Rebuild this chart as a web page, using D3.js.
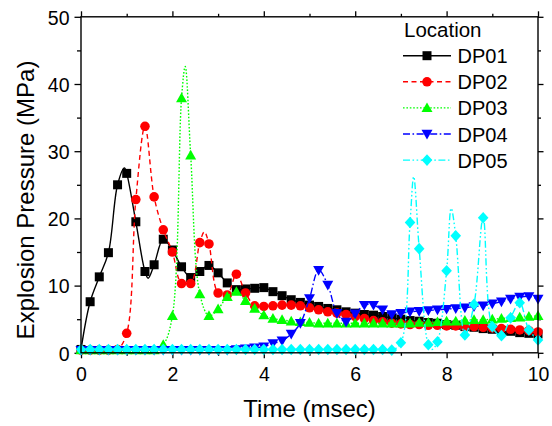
<!DOCTYPE html>
<html><head><meta charset="utf-8">
<script src="https://cdn.jsdelivr.net/npm/d3@7"></script>
<style>
body{margin:0;background:#fff;}
svg{display:block;font-family:"Liberation Sans",Arial,sans-serif;}
</style></head>
<body><svg id="c" width="552" height="426"></svg>
<script>
const time = d3.range(51).map(i => +(i*0.2).toFixed(1));
const seriesNames = ["DP01","DP02","DP03","DP04","DP05"];
const dp01 = [0.5,7.6,11.3,14.9,25.0,26.7,19.5,12.1,13.1,16.9,15.3,12.8,11.2,12.1,13.0,11.9,10.4,9.4,9.5,9.6,9.7,9.1,8.5,7.9,7.5,7.1,6.9,6.6,6.4,6.1,5.9,5.7,5.6,5.4,5.2,5.0,4.8,4.7,4.5,4.4,4.2,4.1,3.9,3.8,3.6,3.5,3.3,3.2,3.0,2.9,2.8];
const dp02 = [0.4,0.4,0.4,0.4,0.5,2.9,22.8,33.7,23.2,18.3,15.0,10.3,10.3,16.4,16.2,8.9,8.6,11.7,8.9,7.0,6.9,7.0,7.1,7.1,7.0,6.7,6.4,6.1,5.9,5.7,5.4,5.1,4.8,4.6,4.4,4.3,4.2,4.2,4.1,4.1,4.0,4.0,3.9,3.9,3.8,3.7,3.6,3.5,3.4,3.3,3.1];
const dp03 = [0.4,0.4,0.4,0.4,0.4,0.4,0.4,0.4,0.4,1.2,5.5,37.9,29.4,8.75,5.5,6.5,8.35,9.1,7.75,6.6,5.6,5.1,4.9,4.7,4.6,4.5,4.4,4.4,4.4,4.4,4.4,4.4,4.4,4.4,4.4,4.4,4.4,4.5,4.5,4.6,4.7,4.7,4.8,4.9,4.9,5.0,5.1,5.2,5.3,5.4,5.5];
const dp04 = [0.4,0.4,0.4,0.4,0.4,0.4,0.4,0.4,0.4,0.4,0.4,0.4,0.4,0.4,0.4,0.4,0.4,0.5,0.6,0.75,0.9,1.4,1.8,2.8,4.4,8.1,12.3,10.1,5.9,4.6,5.8,7.1,7.1,6.4,5.7,5.9,6.1,6.2,6.3,6.4,6.5,6.6,6.7,6.9,7.0,7.3,7.6,8.0,8.3,8.4,8.0];
const dp05 = [0.5,0.5,0.5,0.5,0.5,0.5,0.5,0.5,0.5,0.5,0.5,0.5,0.5,0.5,0.5,0.5,0.5,0.5,0.5,0.5,0.5,0.5,0.5,0.5,0.5,0.5,0.5,0.5,0.5,0.5,0.5,0.5,0.5,0.5,0.4,1.5,19.4,15.5,1.2,1.65,12.2,17.4,2.65,7.2,20.1,3.9,2.55,5.2,7.45,3.4,1.9];
// extra line-only samples between markers (peaks/dips of the recorded trace): [time, value]
const dp01Line = [[0.95,27.5],[1.47,11.1]];
const dp02Line = [[2.7,18.0]];
const dp03Line = [[2.28,42.6]];
const dp04Line = [];
const dp05Line = [[7.28,26.2],[7.68,0.5],[8.1,21.5]];
const xTicks = [0,2,4,6,8,10];
const xMinor = [1,3,5,7,9];
const yTicks = [0,10,20,30,40,50];
const yMinor = [5,15,25,35,45];
const legendTitle = "Location";
const xTitle = "Time (msec)";
const yTitle = "Explosion Pressure (MPa)";

const values = [dp01,dp02,dp03,dp04,dp05];
const extras = [dp01Line,dp02Line,dp03Line,dp04Line,dp05Line];
const colors = ["#000000","#ff0000","#00ff00","#0000ff","#00ffff"];
const dashes = [null,"5,3.5","1.6,1.8","7,2.5,1.6,2.5","7,2.5,1.6,2.5,1.6,2.5"];
const shapes = ["square","circle","up","down","diamond"];

const svg = d3.select("#c");
const L=81,R=538,T=16.8,B=352.8;
const x = d3.scaleLinear().domain([0,10]).range([L,R]);
const y = d3.scaleLinear().domain([0,50]).range([B,T]);

function markerPath(shape){
  switch(shape){
    case "square": return "M-4.5,-4.5H4.5V4.5H-4.5Z";
    case "circle": return d3.symbol(d3.symbolCircle, 72)();
    case "up": return "M0,-5.5L5.5,4.2L-5.5,4.2Z";
    case "down": return "M0,5.5L5.5,-4.2L-5.5,-4.2Z";
    case "diamond": return "M0,-5.8L5.3,0L0,5.8L-5.3,0Z";
  }
}

function styleAxis(g){
  g.select(".domain").remove();
  g.selectAll("line").attr("stroke","#000").attr("stroke-width",1.3);
  g.selectAll("text").attr("fill","#000").style("font-size","19.5px").style("font-family","'Liberation Sans',Arial,sans-serif");
}
const gxB = svg.append("g").attr("transform",`translate(0,${B})`)
  .call(d3.axisBottom(x).tickValues(xTicks).tickSize(5.5).tickFormat(d3.format("d")));
styleAxis(gxB); gxB.selectAll("text").attr("y",28).attr("dy",0);
const gxBm = svg.append("g").attr("transform",`translate(0,${B})`)
  .call(d3.axisBottom(x).tickValues(xMinor).tickSize(3).tickFormat(""));
styleAxis(gxBm);
const gxT = svg.append("g").attr("transform",`translate(0,${T})`)
  .call(d3.axisTop(x).tickValues(xTicks).tickSize(5.5).tickFormat(""));
styleAxis(gxT);
const gxTm = svg.append("g").attr("transform",`translate(0,${T})`)
  .call(d3.axisTop(x).tickValues(xMinor).tickSize(3).tickFormat(""));
styleAxis(gxTm);
const gyL = svg.append("g").attr("transform",`translate(${L},0)`)
  .call(d3.axisLeft(y).tickValues(yTicks).tickSize(6.5).tickFormat(d3.format("d")));
styleAxis(gyL); gyL.selectAll("text").attr("x",-11.5).attr("dy","0.37em");
const gyLm = svg.append("g").attr("transform",`translate(${L},0)`)
  .call(d3.axisLeft(y).tickValues(yMinor).tickSize(4).tickFormat(""));
styleAxis(gyLm);
const gyR = svg.append("g").attr("transform",`translate(${R},0)`)
  .call(d3.axisRight(y).tickValues(yTicks).tickSize(5.5).tickFormat(""));
styleAxis(gyR);
const gyRm = svg.append("g").attr("transform",`translate(${R},0)`)
  .call(d3.axisRight(y).tickValues(yMinor).tickSize(3).tickFormat(""));
styleAxis(gyRm);

svg.append("clipPath").attr("id","clip").append("rect")
  .attr("x",L).attr("y",T).attr("width",R-L).attr("height",B-T+3);

const line = d3.line().x(d=>x(d[0])).y(d=>y(d[1])).curve(d3.curveCatmullRom.alpha(0.5));

values.forEach((vals,k)=>{
  const pts = vals.map((v,i)=>[time[i],v]).concat(extras[k]).sort((a,b)=>a[0]-b[0]);
  const g = svg.append("g");
  g.append("path").attr("d",line(pts)).attr("fill","none")
    .attr("stroke",colors[k]).attr("stroke-width",1.4)
    .attr("stroke-dasharray",dashes[k]).attr("clip-path","url(#clip)");
  g.selectAll("path.m").data(vals).join("path").attr("class","m")
    .attr("d",markerPath(shapes[k]))
    .attr("transform",(d,i)=>`translate(${x(time[i])},${y(d)})`)
    .attr("fill",colors[k]);
});

svg.append("rect").attr("x",L).attr("y",T).attr("width",R-L).attr("height",B-T)
  .attr("fill","none").attr("stroke","#000").attr("stroke-width",1.4);

svg.append("text").attr("x",(L+R)/2).attr("y",417).attr("text-anchor","middle")
  .style("font-size","24px").attr("fill","#000").text(xTitle);
svg.append("text").attr("transform","translate(34,200) rotate(-90)").attr("text-anchor","middle")
  .style("font-size","24px").attr("fill","#000").text(yTitle);

const lg = svg.append("g");
lg.append("text").attr("x",404).attr("y",36.7).style("font-size","20.5px").attr("fill","#000").text(legendTitle);
seriesNames.forEach((n,k)=>{
  const yy = 55.7 + k*26.1;
  lg.append("line").attr("x1",403).attr("x2",451).attr("y1",yy).attr("y2",yy)
    .attr("stroke",colors[k]).attr("stroke-width",1.4).attr("stroke-dasharray",dashes[k]);
  lg.append("path").attr("d",markerPath(shapes[k])).attr("transform",`translate(427,${yy})`).attr("fill",colors[k]);
  lg.append("text").attr("x",457.5).attr("y",yy+7.5).style("font-size","20px").attr("fill","#000").text(n);
});
</script></body></html>
